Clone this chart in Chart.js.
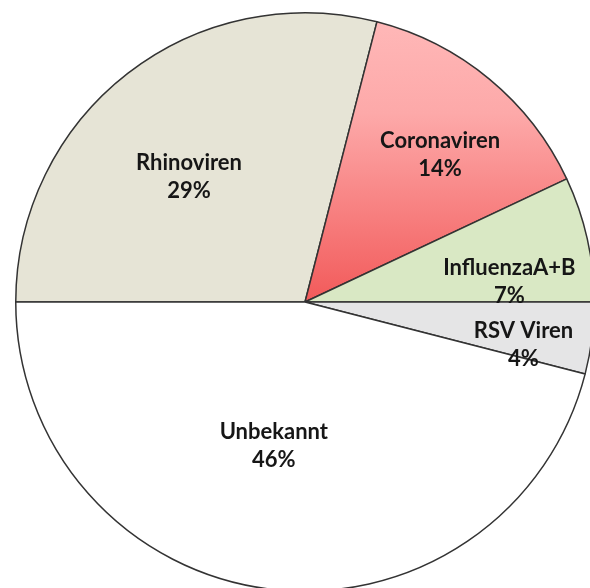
<!DOCTYPE html>
<html>
<head>
<meta charset="utf-8">
<script src="https://cdn.jsdelivr.net/npm/chart.js@4.4.0/dist/chart.umd.min.js"></script>
<style>
  html, body { margin: 0; padding: 0; width: 590px; height: 588px; overflow: hidden; background: #fff; }
  #wrap { position: absolute; left: 0; top: 0; width: 610px; height: 604px; }
</style>
</head>
<body>
<div id="wrap"><canvas id="pieChart"></canvas></div>
<script>
// data
const labels = ['Rhinoviren', 'Coronaviren', 'InfluenzaA+B', 'RSV Viren', 'Unbekannt'];
const percents = [29, 14, 7, 4, 46];

// fill colours per slice (coronaviren gets a gradient below)
const sliceColors = ['#e6e4d6', null, '#d9e8c4', '#e5e5e6', '#ffffff'];
// how far out the label sits (fraction of radius) and angle nudge in degrees
const labelRadius = [0.59, 0.69, 0.71, 0.77, 0.51];
const labelAngleShift = [-5, 3, 7, 4, 5];

const pieCanvas = document.getElementById('pieChart');

function sliceColor(ctx) {
    const i = ctx.dataIndex;
    if (i !== 1) return sliceColors[i];
    const area = ctx.chart.chartArea;
    if (!area) return '#f88';
    //vertical gradient, pink at the top, red near the centre
    const g = ctx.chart.ctx.createLinearGradient(0, area.top, 0, (area.top + area.bottom) / 2);
    g.addColorStop(0, '#ffb9b9');
    g.addColorStop(0.35, '#fda9a9');
    g.addColorStop(1, '#f25a5a');
    return g;
}

// draws "name" + "xx%" inside each slice
const sliceLabels = {
    id: 'sliceLabels',
    afterDatasetsDraw(chart) {
        const ctx = chart.ctx;
        const arcs = chart.getDatasetMeta(0).data;
        ctx.save();
        ctx.fillStyle = '#161616';
        ctx.textAlign = 'center';
        ctx.textBaseline = 'middle';
        ctx.font = 'bold 22px Lato';
        arcs.forEach((arc, i) => {
            const p = arc.getProps(['x', 'y', 'startAngle', 'endAngle', 'outerRadius'], true);
            const mid = (p.startAngle + p.endAngle) / 2 + labelAngleShift[i] * Math.PI / 180;
            const r = p.outerRadius * labelRadius[i];
            const x = p.x + Math.cos(mid) * r;
            const y = p.y + Math.sin(mid) * r;
            ctx.fillText(labels[i], x, y - 14);
            ctx.fillText(percents[i] + '%', x, y + 14);
        });
        ctx.restore();
    }
};

new Chart(pieCanvas, {
    type: 'pie',
    data: {
        labels: labels,
        datasets: [{
            data: percents,
            backgroundColor: sliceColor,
            borderColor: '#333333',
            borderWidth: 1.5
        }]
    },
    options: {
        responsive: true,
        maintainAspectRatio: false,
        animation: false,
        rotation: -90,
        layout: { padding: 12 },
        plugins: {
            legend: { display: false },
            tooltip: { enabled: false }
        }
    },
    plugins: [sliceLabels]
});
</script>
</body>
</html>
